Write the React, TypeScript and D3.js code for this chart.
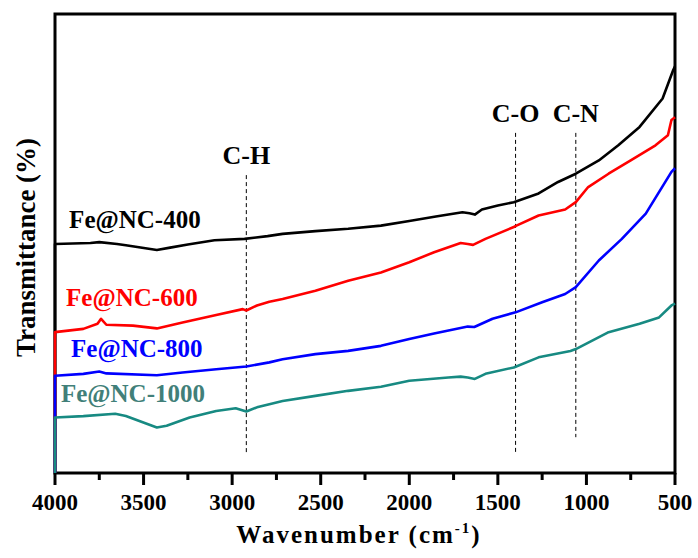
import * as d3 from 'd3'
import React from 'react'

type P = [number, number]

// [wavenumber cm-1, transmittance (a.u.)]
const fe400: P[] = [
  [4000, 0], [4000, 49.9], [3800, 50.1], [3750, 50.3], [3650, 49.9], [3600, 49.6], [3425, 48.6], [3350, 49.1],
  [3250, 49.8], [3100, 50.7], [2930, 51.0], [2800, 51.6], [2715, 52.1], [2530, 52.7], [2345, 53.2],
  [2160, 53.9], [2000, 54.9], [1850, 55.9], [1700, 56.8], [1660, 56.6], [1630, 56.3], [1590, 57.4],
  [1500, 58.3], [1410, 59.0], [1270, 60.9], [1160, 63.4], [1060, 65.2], [930, 68.1], [820, 71.4],
  [700, 75.4], [570, 81.6], [510, 87.8], [500, 88.6],
]
const fe600: P[] = [
  [4000, 0], [4000, 30.7], [3840, 31.4], [3760, 32.5], [3740, 33.6], [3710, 32.3], [3560, 32.1], [3425, 31.5],
  [3280, 32.8], [3090, 34.4], [2940, 35.7], [2920, 35.4], [2860, 36.5], [2790, 37.3], [2715, 37.9],
  [2530, 39.7], [2345, 41.9], [2160, 43.7], [2000, 45.9], [1860, 48.1], [1710, 50.1], [1670, 49.9],
  [1640, 49.7], [1570, 51.0], [1410, 53.6], [1395, 53.9], [1270, 56.1], [1120, 57.4], [1060, 59.0],
  [990, 62.3], [875, 65.2], [750, 68.1], [610, 71.4], [540, 73.6], [520, 76.9], [500, 77.5],
]
const fe800: P[] = [
  [4000, 0], [4000, 21.2], [3840, 21.6], [3750, 22.1], [3710, 21.7], [3425, 21.3], [3280, 21.9], [3090, 22.6],
  [2920, 23.2], [2790, 24.1], [2715, 24.8], [2530, 25.9], [2345, 26.6], [2160, 27.7], [2000, 29.2],
  [1860, 30.4], [1670, 31.9], [1633, 31.8], [1530, 33.6], [1400, 35.0], [1250, 37.2], [1120, 39.0],
  [1060, 40.5], [930, 46.3], [800, 51.0], [665, 56.5], [520, 65.6], [500, 66.4],
]
const fe1000: P[] = [
  [4000, 0], [4000, 12.1], [3840, 12.4], [3660, 12.9], [3600, 12.4], [3425, 9.9], [3370, 10.3], [3240, 12.1],
  [3090, 13.5], [2980, 14.1], [2920, 13.4], [2860, 14.3], [2790, 15.0], [2715, 15.7], [2530, 16.8],
  [2345, 17.9], [2160, 18.8], [2000, 20.1], [1780, 20.8], [1710, 21.0], [1670, 20.8], [1630, 20.5],
  [1570, 21.6], [1410, 23.0], [1270, 25.2], [1090, 26.6], [1060, 27.0], [880, 30.6], [700, 32.5],
  [590, 33.9], [520, 36.5], [500, 36.9],
]

const seriesNames = ['Fe@NC-400', 'Fe@NC-600', 'Fe@NC-800', 'Fe@NC-1000']
const seriesData = [fe400, fe600, fe800, fe1000]
const seriesColors = ['#000000', '#ff0000', '#0000ff', '#178a82']
const labelColors = ['#000000', '#ff0000', '#0000ff', '#417f79']
// label anchor [wavenumber, value] (text centre, baseline)
const labelAt: P[] = [[3549, 53.3], [3566, 36.4], [3538, 25.3], [3560, 15.5]]

const bandNames = ['C-H', 'C-O', 'C-N']
const bandWn = [2920, 1400, 1060]
const bandTop = [64.9, 74.1, 74.1]
const bandBottom = [4.4, 4.4, 7.8]

const majorTicks = [4000, 3500, 3000, 2500, 2000, 1500, 1000, 500]
const minorTicks = [3750, 3250, 2750, 2250, 1750, 1250, 750]

const W = 698, H = 558
const m = { left: 55, right: 675, top: 14, bottom: 473 }
const font = '"Liberation Serif", "Times New Roman", serif'

export default function App() {
  const
    x = d3.scaleLinear().domain([4000, 500]).range([m.left, m.right]),
    y = d3.scaleLinear().domain([0, 100]).range([m.bottom, m.top]),
    ln = d3.line<P>().x(d => x(d[0])).y(d => y(d[1]))

  return (
    <svg width={W} height={H} style={{ position: 'absolute', left: 0, top: 0, background: '#fff' }} fontFamily={font} fontWeight='bold'>
      <rect x={0} y={0} width={W} height={H} fill='#fff' />

      {/* band markers */}
      {bandNames.map((b, i) => (
        <g key={b}>
          <line x1={x(bandWn[i])} x2={x(bandWn[i])} y1={y(bandTop[i])} y2={y(bandBottom[i])}
            stroke='#000' strokeWidth={1} strokeDasharray='4,3' />
          <text x={x(bandWn[i])} y={y(bandTop[i]) - 11} textAnchor='middle' fontSize={26}>{b}</text>
        </g>
      ))}

      {/* frame + ticks */}
      <rect x={m.left} y={m.top} width={m.right - m.left} height={m.bottom - m.top} fill='none' stroke='#000' strokeWidth={3} />
      {majorTicks.map(t => (
        <g key={t}>
          <line x1={x(t)} x2={x(t)} y1={m.bottom} y2={m.bottom + 12} stroke='#000' strokeWidth={3} />
          <text x={x(t)} y={m.bottom + 37} textAnchor='middle' fontSize={23}>{t}</text>
        </g>
      ))}
      {minorTicks.map(t => (
        <line key={t} x1={x(t)} x2={x(t)} y1={m.bottom} y2={m.bottom + 7} stroke='#000' strokeWidth={3} />
      ))}

      {/* spectra */}
      {seriesData.map((d, i) => (
        <path key={seriesNames[i]} d={ln(d) as string} fill='none' stroke={seriesColors[i]} strokeWidth={2.6}
          strokeLinejoin='round' strokeLinecap='butt' />
      ))}
      {seriesNames.map((s, i) => (
        <text key={s} x={x(labelAt[i][0])} y={y(labelAt[i][1])} textAnchor='middle' fontSize={25} fill={labelColors[i]}>{s}</text>
      ))}

      {/* axis titles */}
      <text x={359} y={543} textAnchor='middle' fontSize={25} letterSpacing={2}>
        Wavenumber (cm<tspan dy={-10} fontSize={15}>-1</tspan><tspan dy={10}>)</tspan>
      </text>
      <text transform={`translate(35,${(m.top + m.bottom) / 2 + 4}) rotate(-90)`} textAnchor='middle' fontSize={27}>Transmittance (%)</text>
    </svg>
  )
}
